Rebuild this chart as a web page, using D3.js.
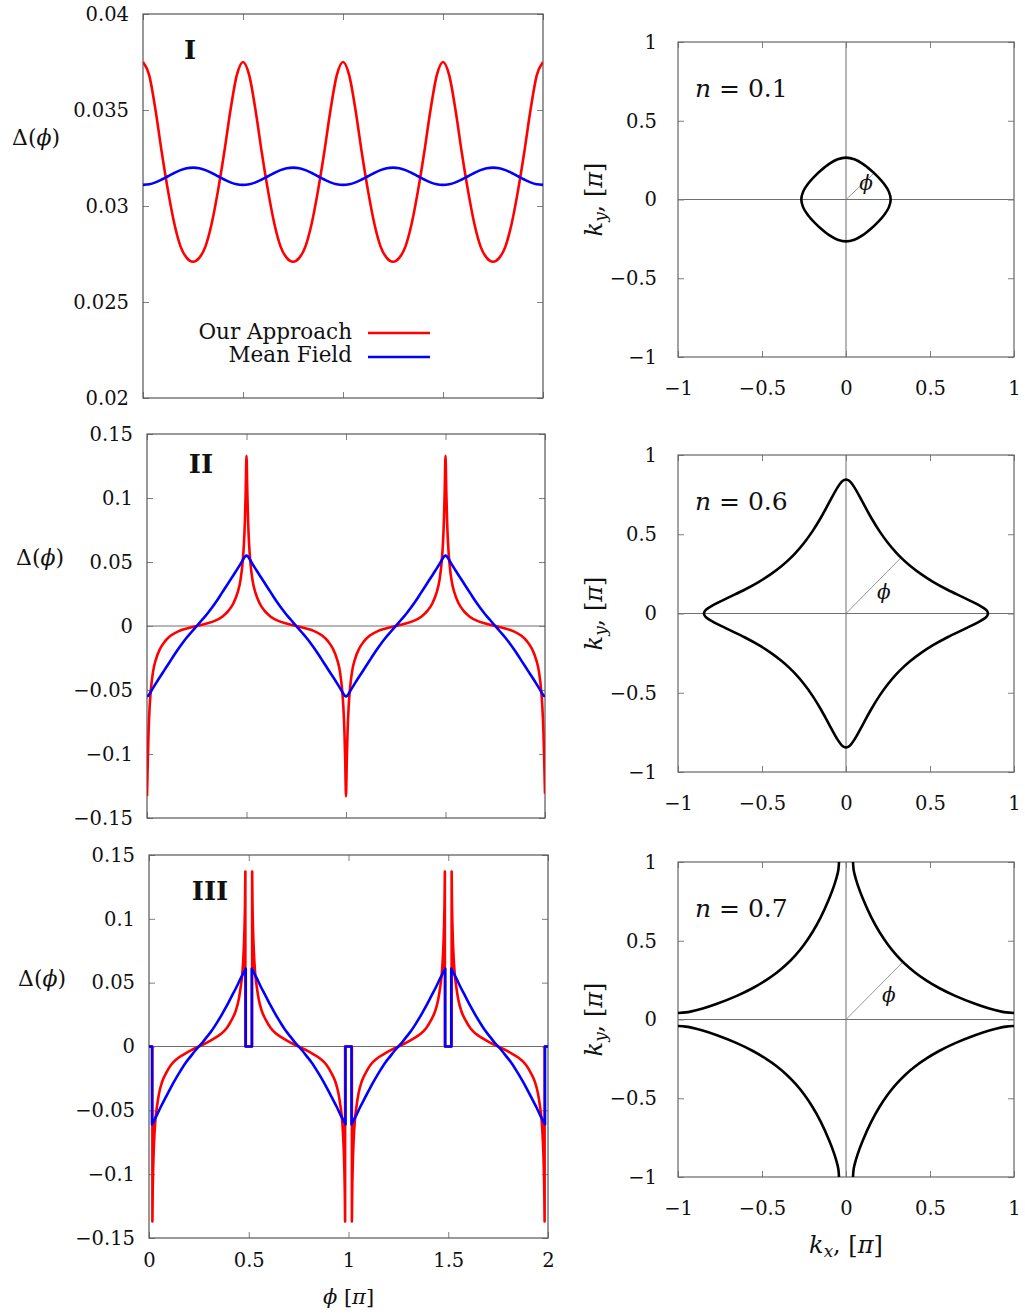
<!DOCTYPE html>
<html>
<head>
<meta charset="utf-8">
<script src="https://cdn.jsdelivr.net/npm/d3@7"></script>
<style>
body{margin:0;background:#fff}
svg{display:block;background:#fff}
</style>
</head>
<body>
<svg id="fig" width="1025" height="1314"></svg>
<script>
// ---------- data ----------
const phiTicks = [0, 0.5, 1, 1.5, 2];
const phiTickLabels = ['0', '0.5', '1', '1.5', '2'];
const yTicksI = [0.02, 0.025, 0.03, 0.035, 0.04];
const yLabelsI = ['0.02', '0.025', '0.03', '0.035', '0.04'];
const yTicksII = [-0.15, -0.1, -0.05, 0, 0.05, 0.1, 0.15];
const yLabelsII = ['\u22120.15', '\u22120.1', '\u22120.05', '0', '0.05', '0.1', '0.15'];
const kTicks = [-1, -0.5, 0, 0.5, 1];
const kTickLabels = ['\u22121', '\u22120.5', '0', '0.5', '1'];
const legendNames = ['Our Approach', 'Mean Field'];
const fillings = ['0.1', '0.6', '0.7'];

// panel I : sampled every 1/32 pi
const phiI = [0,0.03125,0.0625,0.09375,0.125,0.15625,0.1875,0.21875,0.25,0.28125,0.3125,0.34375,0.375,0.40625,0.4375,0.46875,
  0.5,0.53125,0.5625,0.59375,0.625,0.65625,0.6875,0.71875,0.75,0.78125,0.8125,0.84375,0.875,0.90625,0.9375,0.96875,
  1,1.03125,1.0625,1.09375,1.125,1.15625,1.1875,1.21875,1.25,1.28125,1.3125,1.34375,1.375,1.40625,1.4375,1.46875,
  1.5,1.53125,1.5625,1.59375,1.625,1.65625,1.6875,1.71875,1.75,1.78125,1.8125,1.84375,1.875,1.90625,1.9375,1.96875,2];
const redI = [0.0375,0.0368,0.0350,0.0328,0.0308,0.0291,0.0279,0.0273,0.0271,0.0273,0.0279,0.0291,0.0308,0.0328,0.0350,0.0368,
  0.0375,0.0368,0.0350,0.0328,0.0308,0.0291,0.0279,0.0273,0.0271,0.0273,0.0279,0.0291,0.0308,0.0328,0.0350,0.0368,
  0.0375,0.0368,0.0350,0.0328,0.0308,0.0291,0.0279,0.0273,0.0271,0.0273,0.0279,0.0291,0.0308,0.0328,0.0350,0.0368,
  0.0375,0.0368,0.0350,0.0328,0.0308,0.0291,0.0279,0.0273,0.0271,0.0273,0.0279,0.0291,0.0308,0.0328,0.0350,0.0368,0.0375];
const blueI = [0.0311,0.03113,0.03123,0.03138,0.03155,0.03172,0.03187,0.03197,0.0320,0.03197,0.03187,0.03172,0.03155,0.03138,0.03123,0.03113,
  0.0311,0.03113,0.03123,0.03138,0.03155,0.03172,0.03187,0.03197,0.0320,0.03197,0.03187,0.03172,0.03155,0.03138,0.03123,0.03113,
  0.0311,0.03113,0.03123,0.03138,0.03155,0.03172,0.03187,0.03197,0.0320,0.03197,0.03187,0.03172,0.03155,0.03138,0.03123,0.03113,
  0.0311,0.03113,0.03123,0.03138,0.03155,0.03172,0.03187,0.03197,0.0320,0.03197,0.03187,0.03172,0.03155,0.03138,0.03123,0.03113,0.0311];

// panel II : [phi/pi, Delta]
const redII = [[0,-0.133],[0.004,-0.105],[0.008,-0.082],[0.013,-0.064],[0.02,-0.049],[0.03,-0.036],[0.045,-0.026],[0.065,-0.018],[0.09,-0.012],[0.12,-0.0075],[0.16,-0.004],[0.2,-0.002],[0.25,0],
  [0.3,0.002],[0.34,0.004],[0.38,0.0075],[0.41,0.012],[0.435,0.018],[0.455,0.026],[0.47,0.036],[0.48,0.049],[0.487,0.064],[0.492,0.082],[0.496,0.105],[0.5,0.133],
  [0.504,0.105],[0.508,0.082],[0.513,0.064],[0.52,0.049],[0.53,0.036],[0.545,0.026],[0.565,0.018],[0.59,0.012],[0.62,0.0075],[0.66,0.004],[0.7,0.002],[0.75,0],
  [0.8,-0.002],[0.84,-0.004],[0.88,-0.0075],[0.91,-0.012],[0.935,-0.018],[0.955,-0.026],[0.97,-0.036],[0.98,-0.049],[0.987,-0.064],[0.992,-0.082],[0.996,-0.105],[1,-0.133],
  [1.004,-0.105],[1.008,-0.082],[1.013,-0.064],[1.02,-0.049],[1.03,-0.036],[1.045,-0.026],[1.065,-0.018],[1.09,-0.012],[1.12,-0.0075],[1.16,-0.004],[1.2,-0.002],[1.25,0],
  [1.3,0.002],[1.34,0.004],[1.38,0.0075],[1.41,0.012],[1.435,0.018],[1.455,0.026],[1.47,0.036],[1.48,0.049],[1.487,0.064],[1.492,0.082],[1.496,0.105],[1.5,0.133],
  [1.504,0.105],[1.508,0.082],[1.513,0.064],[1.52,0.049],[1.53,0.036],[1.545,0.026],[1.565,0.018],[1.59,0.012],[1.62,0.0075],[1.66,0.004],[1.7,0.002],[1.75,0],
  [1.8,-0.002],[1.84,-0.004],[1.88,-0.0075],[1.91,-0.012],[1.935,-0.018],[1.955,-0.026],[1.97,-0.036],[1.98,-0.049],[1.987,-0.064],[1.992,-0.082],[1.996,-0.105],[2,-0.131]];
const blueII = [[0,-0.055],[0.006,-0.0545],[0.015,-0.0525],[0.03,-0.0485],[0.05,-0.0435],[0.075,-0.0375],[0.1,-0.0315],[0.125,-0.0255],[0.15,-0.0195],[0.175,-0.014],[0.2,-0.009],[0.225,-0.0045],[0.25,0],
  [0.275,0.0045],[0.3,0.009],[0.325,0.014],[0.35,0.0195],[0.375,0.0255],[0.4,0.0315],[0.425,0.0375],[0.45,0.0435],[0.47,0.0485],[0.485,0.0525],[0.494,0.0545],[0.5,0.055],
  [0.506,0.0545],[0.515,0.0525],[0.53,0.0485],[0.55,0.0435],[0.575,0.0375],[0.6,0.0315],[0.625,0.0255],[0.65,0.0195],[0.675,0.014],[0.7,0.009],[0.725,0.0045],[0.75,0],
  [0.775,-0.0045],[0.8,-0.009],[0.825,-0.014],[0.85,-0.0195],[0.875,-0.0255],[0.9,-0.0315],[0.925,-0.0375],[0.95,-0.0435],[0.97,-0.0485],[0.985,-0.0525],[0.994,-0.0545],[1,-0.055],
  [1.006,-0.0545],[1.015,-0.0525],[1.03,-0.0485],[1.05,-0.0435],[1.075,-0.0375],[1.1,-0.0315],[1.125,-0.0255],[1.15,-0.0195],[1.175,-0.014],[1.2,-0.009],[1.225,-0.0045],[1.25,0],
  [1.275,0.0045],[1.3,0.009],[1.325,0.014],[1.35,0.0195],[1.375,0.0255],[1.4,0.0315],[1.425,0.0375],[1.45,0.0435],[1.47,0.0485],[1.485,0.0525],[1.494,0.0545],[1.5,0.055],
  [1.506,0.0545],[1.515,0.0525],[1.53,0.0485],[1.55,0.0435],[1.575,0.0375],[1.6,0.0315],[1.625,0.0255],[1.65,0.0195],[1.675,0.014],[1.7,0.009],[1.725,0.0045],[1.75,0],
  [1.775,-0.0045],[1.8,-0.009],[1.825,-0.014],[1.85,-0.0195],[1.875,-0.0255],[1.9,-0.0315],[1.925,-0.0375],[1.95,-0.0435],[1.97,-0.0485],[1.985,-0.0525],[1.994,-0.0545],[2,-0.055]];

// panel III
const redIII = [[0,0],[0.017,0],[0.017,-0.137],[0.0185,-0.115],[0.021,-0.095],[0.024,-0.08],[0.028,-0.067],[0.033,-0.056],[0.04,-0.047],[0.05,-0.037],[0.065,-0.028],[0.085,-0.021],[0.11,-0.0145],[0.14,-0.0098],[0.175,-0.0062],[0.21,-0.003],[0.25,0],
  [0.29,0.003],[0.325,0.0062],[0.36,0.0098],[0.39,0.0145],[0.415,0.021],[0.435,0.028],[0.45,0.037],[0.46,0.047],[0.467,0.056],[0.472,0.067],[0.476,0.08],[0.479,0.095],[0.4815,0.115],[0.483,0.137],[0.483,0],[0.517,0],[0.517,0.137],
  [0.5185,0.115],[0.521,0.095],[0.524,0.08],[0.528,0.067],[0.533,0.056],[0.54,0.047],[0.55,0.037],[0.565,0.028],[0.585,0.021],[0.61,0.0145],[0.64,0.0098],[0.675,0.0062],[0.71,0.003],[0.75,0],
  [0.79,-0.003],[0.825,-0.0062],[0.86,-0.0098],[0.89,-0.0145],[0.915,-0.021],[0.935,-0.028],[0.95,-0.037],[0.96,-0.047],[0.967,-0.056],[0.972,-0.067],[0.976,-0.08],[0.979,-0.095],[0.9815,-0.115],[0.983,-0.137],[0.983,0],[1.017,0],[1.017,-0.137],
  [1.0185,-0.115],[1.021,-0.095],[1.024,-0.08],[1.028,-0.067],[1.033,-0.056],[1.04,-0.047],[1.05,-0.037],[1.065,-0.028],[1.085,-0.021],[1.11,-0.0145],[1.14,-0.0098],[1.175,-0.0062],[1.21,-0.003],[1.25,0],
  [1.29,0.003],[1.325,0.0062],[1.36,0.0098],[1.39,0.0145],[1.415,0.021],[1.435,0.028],[1.45,0.037],[1.46,0.047],[1.467,0.056],[1.472,0.067],[1.476,0.08],[1.479,0.095],[1.4815,0.115],[1.483,0.137],[1.483,0],[1.517,0],[1.517,0.137],
  [1.5185,0.115],[1.521,0.095],[1.524,0.08],[1.528,0.067],[1.533,0.056],[1.54,0.047],[1.55,0.037],[1.565,0.028],[1.585,0.021],[1.61,0.0145],[1.64,0.0098],[1.675,0.0062],[1.71,0.003],[1.75,0],
  [1.79,-0.003],[1.825,-0.0062],[1.86,-0.0098],[1.89,-0.0145],[1.915,-0.021],[1.935,-0.028],[1.95,-0.037],[1.96,-0.047],[1.967,-0.056],[1.972,-0.067],[1.976,-0.08],[1.979,-0.095],[1.9815,-0.115],[1.983,-0.137],[1.983,0],[2,0]];
const blueIII = [[0,0],[0.015,0],[0.015,-0.061],[0.025,-0.058],[0.04,-0.0535],[0.06,-0.047],[0.085,-0.0395],[0.11,-0.032],[0.135,-0.025],[0.16,-0.0185],[0.185,-0.0125],[0.21,-0.0075],[0.23,-0.0035],[0.25,0],
  [0.27,0.0035],[0.29,0.0075],[0.315,0.0125],[0.34,0.0185],[0.365,0.025],[0.39,0.032],[0.415,0.0395],[0.44,0.047],[0.46,0.0535],[0.475,0.058],[0.485,0.061],[0.485,0],[0.515,0],[0.515,0.061],
  [0.525,0.058],[0.54,0.0535],[0.56,0.047],[0.585,0.0395],[0.61,0.032],[0.635,0.025],[0.66,0.0185],[0.685,0.0125],[0.71,0.0075],[0.73,0.0035],[0.75,0],
  [0.77,-0.0035],[0.79,-0.0075],[0.815,-0.0125],[0.84,-0.0185],[0.865,-0.025],[0.89,-0.032],[0.915,-0.0395],[0.94,-0.047],[0.96,-0.0535],[0.975,-0.058],[0.985,-0.061],[0.985,0],[1.015,0],[1.015,-0.061],
  [1.025,-0.058],[1.04,-0.0535],[1.06,-0.047],[1.085,-0.0395],[1.11,-0.032],[1.135,-0.025],[1.16,-0.0185],[1.185,-0.0125],[1.21,-0.0075],[1.23,-0.0035],[1.25,0],
  [1.27,0.0035],[1.29,0.0075],[1.315,0.0125],[1.34,0.0185],[1.365,0.025],[1.39,0.032],[1.415,0.0395],[1.44,0.047],[1.46,0.0535],[1.475,0.058],[1.485,0.061],[1.485,0],[1.515,0],[1.515,0.061],
  [1.525,0.058],[1.54,0.0535],[1.56,0.047],[1.585,0.0395],[1.61,0.032],[1.635,0.025],[1.66,0.0185],[1.685,0.0125],[1.71,0.0075],[1.73,0.0035],[1.75,0],
  [1.77,-0.0035],[1.79,-0.0075],[1.815,-0.0125],[1.84,-0.0185],[1.865,-0.025],[1.89,-0.032],[1.915,-0.0395],[1.94,-0.047],[1.96,-0.0535],[1.975,-0.058],[1.985,-0.061],[1.985,0],[2,0]];

// Fermi surfaces [kx, ky] in units of pi
const fsN01 = [[0.266,0],[0.255,0.05],[0.226,0.1],[0.184,0.15],[0.15,0.184],[0.1,0.226],[0.05,0.255],
  [0,0.266],[-0.05,0.255],[-0.1,0.226],[-0.15,0.184],[-0.184,0.15],[-0.226,0.1],[-0.255,0.05],
  [-0.266,0],[-0.255,-0.05],[-0.226,-0.1],[-0.184,-0.15],[-0.15,-0.184],[-0.1,-0.226],[-0.05,-0.255],
  [0,-0.266],[0.05,-0.255],[0.1,-0.226],[0.15,-0.184],[0.184,-0.15],[0.226,-0.1],[0.255,-0.05]];
const fsN06 = [[0.845,0],[0.8416,0.0125],[0.832,0.025],[0.796,0.05],[0.701,0.1],[0.604,0.15],[0.518,0.2],[0.445,0.25],[0.383,0.3],[0.34,0.34],[0.3,0.383],[0.25,0.445],[0.2,0.518],[0.15,0.604],[0.1,0.701],[0.05,0.796],[0.025,0.832],[0.0125,0.8416],
  [0,0.845],[-0.0125,0.8416],[-0.025,0.832],[-0.05,0.796],[-0.1,0.701],[-0.15,0.604],[-0.2,0.518],[-0.25,0.445],[-0.3,0.383],[-0.34,0.34],[-0.383,0.3],[-0.445,0.25],[-0.518,0.2],[-0.604,0.15],[-0.701,0.1],[-0.796,0.05],[-0.832,0.025],[-0.8416,0.0125],
  [-0.845,0],[-0.8416,-0.0125],[-0.832,-0.025],[-0.796,-0.05],[-0.701,-0.1],[-0.604,-0.15],[-0.518,-0.2],[-0.445,-0.25],[-0.383,-0.3],[-0.34,-0.34],[-0.3,-0.383],[-0.25,-0.445],[-0.2,-0.518],[-0.15,-0.604],[-0.1,-0.701],[-0.05,-0.796],[-0.025,-0.832],[-0.0125,-0.8416],
  [0,-0.845],[0.0125,-0.8416],[0.025,-0.832],[0.05,-0.796],[0.1,-0.701],[0.15,-0.604],[0.2,-0.518],[0.25,-0.445],[0.3,-0.383],[0.34,-0.34],[0.383,-0.3],[0.445,-0.25],[0.518,-0.2],[0.604,-0.15],[0.701,-0.1],[0.796,-0.05],[0.832,-0.025],[0.8416,-0.0125]];
const fsN07UR = [[0.0416,1],[0.045,0.954],[0.05,0.926],[0.07,0.853],[0.1,0.768],[0.15,0.65],[0.2,0.554],[0.25,0.475],[0.3,0.409],[0.352,0.352],[0.409,0.3],[0.475,0.25],[0.554,0.2],[0.65,0.15],[0.768,0.1],[0.853,0.07],[0.926,0.05],[0.954,0.045],[1,0.0416]];
const fsN07UL = [[-0.0416,1],[-0.045,0.954],[-0.05,0.926],[-0.07,0.853],[-0.1,0.768],[-0.15,0.65],[-0.2,0.554],[-0.25,0.475],[-0.3,0.409],[-0.352,0.352],[-0.409,0.3],[-0.475,0.25],[-0.554,0.2],[-0.65,0.15],[-0.768,0.1],[-0.853,0.07],[-0.926,0.05],[-0.954,0.045],[-1,0.0416]];
const fsN07LL = [[-0.0416,-1],[-0.045,-0.954],[-0.05,-0.926],[-0.07,-0.853],[-0.1,-0.768],[-0.15,-0.65],[-0.2,-0.554],[-0.25,-0.475],[-0.3,-0.409],[-0.352,-0.352],[-0.409,-0.3],[-0.475,-0.25],[-0.554,-0.2],[-0.65,-0.15],[-0.768,-0.1],[-0.853,-0.07],[-0.926,-0.05],[-0.954,-0.045],[-1,-0.0416]];
const fsN07LR = [[0.0416,-1],[0.045,-0.954],[0.05,-0.926],[0.07,-0.853],[0.1,-0.768],[0.15,-0.65],[0.2,-0.554],[0.25,-0.475],[0.3,-0.409],[0.352,-0.352],[0.409,-0.3],[0.475,-0.25],[0.554,-0.2],[0.65,-0.15],[0.768,-0.1],[0.853,-0.07],[0.926,-0.05],[0.954,-0.045],[1,-0.0416]];

// ---------- layout ----------
const serif = '"DejaVu Serif", "Liberation Serif", serif';
const tickFont = 19.5;
const svg = d3.select('#fig');

const leftPanels = [
  {id: 'I',   x0: 143, x1: 543, y0: 14,  y1: 398,  yDomain: [0.02, 0.04],  yTicks: yTicksI,  yLabels: yLabelsI,
   red: d3.zip(phiI, redI), blue: d3.zip(phiI, blueI), roman: [190, 59], zero: false, xLabels: false, legend: true},
  {id: 'II',  x0: 147, x1: 545, y0: 434, y1: 818,  yDomain: [-0.15, 0.15], yTicks: yTicksII, yLabels: yLabelsII,
   red: redII, blue: blueII, roman: [201, 473], zero: true, xLabels: false},
  {id: 'III', x0: 149, x1: 548, y0: 855, y1: 1238, yDomain: [-0.15, 0.15], yTicks: yTicksII, yLabels: yLabelsII,
   red: redIII, blue: blueIII, roman: [210, 900], zero: true, xLabels: true}
];
const rightPanels = [
  {x0: 678, x1: 1014, y0: 42,  y1: 357,  curves: [fsN01], closed: true,  n: fillings[0], ray: [0.165, 0.165], phiAt: [0.12, 0.06]},
  {x0: 678, x1: 1014, y0: 455, y1: 772,  curves: [fsN06], closed: true,  n: fillings[1], ray: [0.33, 0.355],  phiAt: [0.225, 0.09]},
  {x0: 678, x1: 1014, y0: 862, y1: 1177, curves: [fsN07UR, fsN07UL, fsN07LL, fsN07LR], closed: false, n: fillings[2], ray: [0.345, 0.372], phiAt: [0.255, 0.11], xTitle: true}
];

// text with italic / subscript parts: [string, italic, subscript]
function mathText(parent, x, y, parts, size, anchor) {
  const t = parent.append('text')
    .attr('x', x).attr('y', y)
    .attr('font-family', serif).attr('font-size', size)
    .attr('text-anchor', anchor || 'start').attr('fill', '#111');
  let shifted = false;
  parts.forEach(([s, it, sub]) => {
    const ts = t.append('tspan').text(s);
    if (it) ts.attr('font-style', 'italic');
    if (sub) { ts.attr('font-size', size * 0.7).attr('dy', size * 0.16); shifted = true; }
    else if (shifted) { ts.attr('dy', -size * 0.16); shifted = false; }
  });
  return t;
}

// joins sub-paths where the series jumps vertically (same x twice)
function pathWithJumps(line, pts) {
  const segs = [[pts[0]]];
  for (let i = 1; i < pts.length; i++) {
    if (pts[i][0] === pts[i - 1][0]) segs.push([pts[i]]);
    else segs[segs.length - 1].push(pts[i]);
  }
  return segs.map((s, i) => {
    const d = line(s).replace(/Z$/, '');
    return i ? d.replace(/^M/, 'L') : d;
  }).join('');
}

function styleAxis(sel) {
  sel.select('.domain').remove();
  sel.attr('font-family', serif).attr('font-size', tickFont);
  sel.selectAll('.tick line').attr('stroke', '#808080').attr('stroke-width', 1);
  sel.selectAll('.tick text').attr('fill', '#111');
}

// ---------- left column ----------
leftPanels.forEach((p, pi) => {
  const x = d3.scaleLinear().domain([0, 2]).range([p.x0, p.x1]);
  const y = d3.scaleLinear().domain(p.yDomain).range([p.y1, p.y0]);
  const g = svg.append('g').attr('class', 'left-' + p.id);

  g.append('clipPath').attr('id', 'clipL' + pi).append('rect')
    .attr('x', p.x0).attr('y', p.y0).attr('width', p.x1 - p.x0).attr('height', p.y1 - p.y0);

  if (p.zero) {
    g.append('line').attr('x1', p.x0).attr('x2', p.x1).attr('y1', y(0)).attr('y2', y(0))
      .attr('stroke', '#6e6e6e').attr('stroke-width', 1);
  }

  g.append('g').attr('transform', `translate(${p.x0},0)`)
    .call(d3.axisLeft(y).tickValues(p.yTicks).tickFormat((d, i) => p.yLabels[i]).tickSize(-6).tickPadding(14))
    .call(styleAxis);
  g.append('g').attr('transform', `translate(${p.x1},0)`)
    .call(d3.axisRight(y).tickValues(p.yTicks).tickFormat('').tickSize(-6))
    .call(styleAxis);
  g.append('g').attr('transform', `translate(0,${p.y0})`)
    .call(d3.axisTop(x).tickValues(phiTicks).tickFormat('').tickSize(-6))
    .call(styleAxis);
  g.append('g').attr('transform', `translate(0,${p.y1})`)
    .call(d3.axisBottom(x).tickValues(phiTicks).tickFormat(p.xLabels ? (d, i) => phiTickLabels[i] : '').tickSize(-6).tickPadding(15))
    .call(styleAxis);

  g.append('rect').attr('x', p.x0).attr('y', p.y0).attr('width', p.x1 - p.x0).attr('height', p.y1 - p.y0)
    .attr('fill', 'none').attr('stroke', '#555').attr('stroke-width', 1.2);

  const line = d3.line().x(d => x(d[0])).y(d => y(d[1])).curve(d3.curveMonotoneX);
  const curves = g.append('g').attr('clip-path', `url(#clipL${pi})`);
  curves.append('path').attr('d', pathWithJumps(line, p.red))
    .attr('fill', 'none').attr('stroke', '#ff0000').attr('stroke-width', 2.6).attr('stroke-linejoin', 'round');
  curves.append('path').attr('d', pathWithJumps(line, p.blue))
    .attr('fill', 'none').attr('stroke', '#0000ff').attr('stroke-width', 2.6).attr('stroke-linejoin', 'round');

  g.append('text').attr('x', p.roman[0]).attr('y', p.roman[1]).attr('text-anchor', 'middle')
    .attr('font-family', serif).attr('font-weight', 'bold').attr('font-size', 26).attr('fill', '#111')
    .text(p.id);

  mathText(g, p.x0 - 131, p.y0 + 131, [['\u0394(', false], ['\u03D5', true], [')', false]], 22);

  if (p.legend) {
    const rows = [[legendNames[0], '#ff0000', 339, 333], [legendNames[1], '#0000ff', 362, 357]];
    rows.forEach(([name, col, ty, ly]) => {
      g.append('text').attr('x', 352).attr('y', ty).attr('text-anchor', 'end')
        .attr('font-family', serif).attr('font-size', 21.5).attr('fill', '#111').text(name);
      g.append('line').attr('x1', 368).attr('x2', 430).attr('y1', ly).attr('y2', ly)
        .attr('stroke', col).attr('stroke-width', 2.6);
    });
  }
  if (p.xLabels) {
    mathText(g, (p.x0 + p.x1) / 2, 1304, [['\u03D5', true], [' [', false], ['\u03C0', true], [']', false]], 21, 'middle');
  }
});

// ---------- right column ----------
rightPanels.forEach((p, pi) => {
  const x = d3.scaleLinear().domain([-1, 1]).range([p.x0, p.x1]);
  const y = d3.scaleLinear().domain([-1, 1]).range([p.y1, p.y0]);
  const g = svg.append('g').attr('class', 'right-' + pi);

  g.append('clipPath').attr('id', 'clipR' + pi).append('rect')
    .attr('x', p.x0).attr('y', p.y0).attr('width', p.x1 - p.x0).attr('height', p.y1 - p.y0);

  g.append('line').attr('x1', p.x0).attr('x2', p.x1).attr('y1', y(0)).attr('y2', y(0))
    .attr('stroke', '#6e6e6e').attr('stroke-width', 1);
  g.append('line').attr('x1', x(0)).attr('x2', x(0)).attr('y1', p.y0).attr('y2', p.y1)
    .attr('stroke', '#6e6e6e').attr('stroke-width', 1);

  g.append('g').attr('transform', `translate(${p.x0},0)`)
    .call(d3.axisLeft(y).tickValues(kTicks).tickFormat((d, i) => kTickLabels[i]).tickSize(-6).tickPadding(21))
    .call(styleAxis);
  g.append('g').attr('transform', `translate(${p.x1},0)`)
    .call(d3.axisRight(y).tickValues(kTicks).tickFormat('').tickSize(-6))
    .call(styleAxis);
  g.append('g').attr('transform', `translate(0,${p.y0})`)
    .call(d3.axisTop(x).tickValues(kTicks).tickFormat('').tickSize(-6))
    .call(styleAxis);
  g.append('g').attr('transform', `translate(0,${p.y1})`)
    .call(d3.axisBottom(x).tickValues(kTicks).tickFormat((d, i) => kTickLabels[i]).tickSize(-6).tickPadding(24))
    .call(styleAxis);

  g.append('rect').attr('x', p.x0).attr('y', p.y0).attr('width', p.x1 - p.x0).attr('height', p.y1 - p.y0)
    .attr('fill', 'none').attr('stroke', '#666').attr('stroke-width', 1.2);

  // angle marker
  g.append('line').attr('x1', x(0)).attr('y1', y(0)).attr('x2', x(p.ray[0])).attr('y2', y(p.ray[1]))
    .attr('stroke', '#8a8a8a').attr('stroke-width', 0.9);
  mathText(g, x(p.phiAt[0]), y(p.phiAt[1]), [['\u03D5', true]], 20, 'middle');

  const line = d3.line().x(d => x(d[0])).y(d => y(d[1]))
    .curve(p.closed ? d3.curveCatmullRomClosed.alpha(0.5) : d3.curveCatmullRom.alpha(0.5));
  const cg = g.append('g').attr('clip-path', `url(#clipR${pi})`);
  p.curves.forEach(c => {
    cg.append('path').attr('d', line(c)).attr('fill', 'none')
      .attr('stroke', '#000').attr('stroke-width', 2.6).attr('stroke-linejoin', 'round');
  });

  mathText(g, 695, p.y0 + 55, [['n', true], [' = ' + p.n, false]], 25);

  const cy = (p.y0 + p.y1) / 2;
  mathText(g, 0, 8, [['k', true], ['y', true, true], [', [', false], ['\u03C0', true], [']', false]], 24, 'middle')
    .attr('transform', `translate(594,${cy}) rotate(-90)`);

  if (p.xTitle) {
    mathText(g, (p.x0 + p.x1) / 2, 1253, [['k', true], ['x', true, true], [', [', false], ['\u03C0', true], [']', false]], 24, 'middle');
  }
});
</script>
</body>
</html>
